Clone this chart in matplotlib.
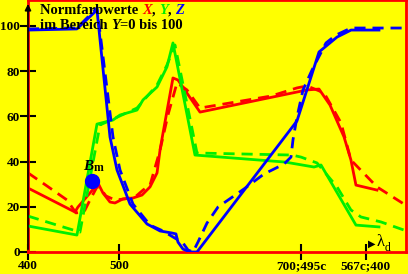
import matplotlib
matplotlib.use("Agg")
import matplotlib.pyplot as plt

# ---- data (x: wavelength-like position, y: tristimulus value) ----
x_ticks = [400, 500, 700, 771]
x_ticklabels = ["400", "500", "700;495c", "567c;400"]
y_ticks = [0, 20, 40, 60, 80, 100]

X_solid_x = [400, 451.6, 454.9, 468.1, 473.6, 476.9, 482.4, 490.1, 495.6, 504.4, 515.4, 525.3, 534.1,
             541.8, 545.1, 548.4, 559.3, 564.8, 589.0, 706.6, 719.8, 731.9, 747.3, 754.9, 760.4, 783.5]
X_solid_y = [28.3, 17.7, 19.9, 26.1, 28.8, 30.5, 26.1, 22.1, 21.7, 23.5, 23.9, 25.2, 28.8,
             35.0, 45.1, 52.7, 77.0, 76.1, 61.9, 71.7, 72.1, 65.0, 50.9, 40.7, 29.6, 27.4]
X_dash_x = [400, 420.9, 442.9, 452.7, 461.5, 468.1, 475.8, 479.1, 485.7, 495.6, 506.6, 517.6, 526.4,
            534.1, 545.1, 553.8, 563.7, 574.7, 589.0, 667.0, 695.6, 706.6, 725.3, 734.1, 744.0,
            754.9, 783.5, 813.2]
X_dash_y = [35.0, 29.2, 23.0, 17.3, 17.7, 23.0, 28.8, 28.3, 24.8, 23.0, 23.5, 24.3, 27.4,
            29.6, 45.1, 60.6, 74.8, 71.7, 63.7, 69.0, 72.6, 73.5, 70.4, 64.2, 57.1,
            40.7, 28.8, 21.2]

Y_solid_x = [400, 453.8, 475.8, 493.4, 501.1, 519.8, 526.4, 541.8, 552.7, 559.3, 583.5, 682.4,
             714.3, 722.0, 760.4, 785.7]
Y_solid_y = [11.5, 7.5, 56.6, 58.4, 60.6, 62.8, 67.3, 73.0, 81.9, 92.5, 42.9, 39.8,
             37.6, 38.5, 11.9, 11.1]
Y_dash_x = [400, 431.9, 457.1, 479.1, 493.4, 519.8, 541.8, 552.7, 561.5, 585.7, 690.1, 700.0,
            717.6, 739.6, 754.9, 765.9, 787.9, 813.2]
Y_dash_y = [15.9, 11.9, 8.8, 56.2, 58.8, 63.7, 73.9, 82.7, 91.6, 43.8, 42.9, 42.0,
            39.4, 28.8, 18.6, 15.5, 13.3, 9.7]

Z_solid_x = [400, 453.8, 475.8, 490.1, 497.8, 512.1, 530.8, 545.1, 558.2, 562.6, 564.8, 570.3,
             578.0, 585.7, 695.6, 719.8, 739.6, 755.0, 785.7]
Z_solid_y = [98.2, 98.7, 107.1, 50.9, 36.3, 21.2, 12.4, 9.3, 8.4, 8.0, 4.4, 1.3,
             0.0, 0.0, 58.0, 88.5, 95.1, 98.2, 98.2]
Z_dash_x = [400, 453.8, 475.8, 493.4, 501.1, 515.4, 534.1, 548.4, 570.3, 575.8, 581.3, 586.8,
            596.7, 608.8, 637.4, 659.3, 681.3, 689.0, 691.2, 695.6, 702.2, 712.1, 727.5,
            738.5, 755.0, 813.2]
Z_dash_y = [98.7, 99.1, 108.0, 50.9, 36.3, 21.2, 11.9, 9.3, 4.0, 0.9, 0.0, 4.4,
            12.8, 19.9, 27.9, 34.5, 38.9, 42.0, 49.6, 59.7, 71.7, 80.5, 92.5,
            96.0, 99.1, 99.1]

Bm_x = [470.3]
Bm_y = [31.4]

# ---- figure ----
W, H = 408, 274
fig = plt.figure(figsize=(W / 100, H / 100), dpi=100)
fig.patch.set_facecolor("#ffff00")
ax = fig.add_axes([28 / W, 22 / H, 378 / W, 252 / H])
ax.set_facecolor("#ffff00")
ax.set_xlim(400, 815.4)
ax.set_ylim(0, 111.5)

for s in ax.spines.values():
    s.set_color("#ff0000")
    s.set_linewidth(2)

lw = 2.0
dash = (0, (4, 2.5))
ax.plot(X_solid_x, X_solid_y, color="#ff0000", lw=lw, solid_joinstyle="round", zorder=3)
ax.plot(X_dash_x, X_dash_y, color="#ff0000", lw=lw, ls=dash, zorder=3)
ax.plot(Y_solid_x, Y_solid_y, color="#00ee00", lw=lw, solid_joinstyle="round", zorder=3)
ax.plot(Y_dash_x, Y_dash_y, color="#00ee00", lw=lw, ls=dash, zorder=3)
ax.plot(Z_solid_x, Z_solid_y, color="#0000ff", lw=lw, solid_joinstyle="round", zorder=4)
ax.plot(Z_dash_x, Z_dash_y, color="#0000ff", lw=lw, ls=dash, zorder=4)

ax.plot(Bm_x, Bm_y, "o", color="#0000ff", ms=10, zorder=6)
ax.text(Bm_x[0] - 4, Bm_y[0] + 3.5, "B", fontsize=11, fontfamily="Liberation Serif",
        fontweight="bold", fontstyle="italic", ha="center", va="bottom", zorder=7)
ax.text(Bm_x[0] + 1.5, Bm_y[0] + 3.0, "m", fontsize=8.5, fontfamily="Liberation Serif",
        fontweight="bold", ha="left", va="bottom", zorder=7)

# ticks
ax.set_xticks(x_ticks)
ax.set_xticklabels(x_ticklabels)
ax.set_yticks(y_ticks)
ax.tick_params(axis="both", direction="inout", length=11, width=1.5, color="black",
               labelsize=9.5, pad=0.5)
for lab in ax.get_xticklabels() + ax.get_yticklabels():
    lab.set_fontfamily("Liberation Serif")
    lab.set_fontweight("bold")

# y axis black line with arrow
ax.annotate("", xy=(400, 111), xytext=(400, 0),
            arrowprops=dict(arrowstyle="-|>", color="black", lw=1.2, mutation_scale=9),
            annotation_clip=False, zorder=5)
# x axis arrow
ax.text(774, 3.8, "\u25b6", fontsize=7, color="black", ha="left", va="center",
        fontfamily="DejaVu Sans")
ax.text(783, 4.5, "λ", fontsize=12, color="black", ha="left", va="center",
        fontfamily="Liberation Serif")
ax.text(792, 1.8, "d", fontsize=8.5, color="black", ha="left", va="center",
        fontfamily="Liberation Serif")

# title text
fp = dict(fontfamily="Liberation Serif", fontweight="bold", fontsize=10.5)
t = fig.text(40 / W, 1 - 4 / H, "Normfarbwerte ", va="top", ha="left", **fp)
fig.canvas.draw()
r = fig.canvas.get_renderer()


def put_after(prev, s, color="black", style="normal"):
    bb = prev.get_window_extent(r)
    x = bb.x1 / W
    return fig.text(x, prev.get_position()[1], s, va="top", ha="left", color=color,
                    fontstyle=style, **fp)


t2 = put_after(t, "X", "#ff0000", "italic")
t3 = put_after(t2, ", ")
t4 = put_after(t3, "Y", "#00ee00", "italic")
t5 = put_after(t4, ", ")
t6 = put_after(t5, "Z", "#0000ff", "italic")

s1 = fig.text(40 / W, 1 - 19 / H, "im Bereich ", va="top", ha="left", **fp)
s2 = put_after(s1, "Y", "black", "italic")
s3 = put_after(s2, "=0 bis 100")

fig.savefig("out.png", dpi=100, facecolor=fig.get_facecolor())
